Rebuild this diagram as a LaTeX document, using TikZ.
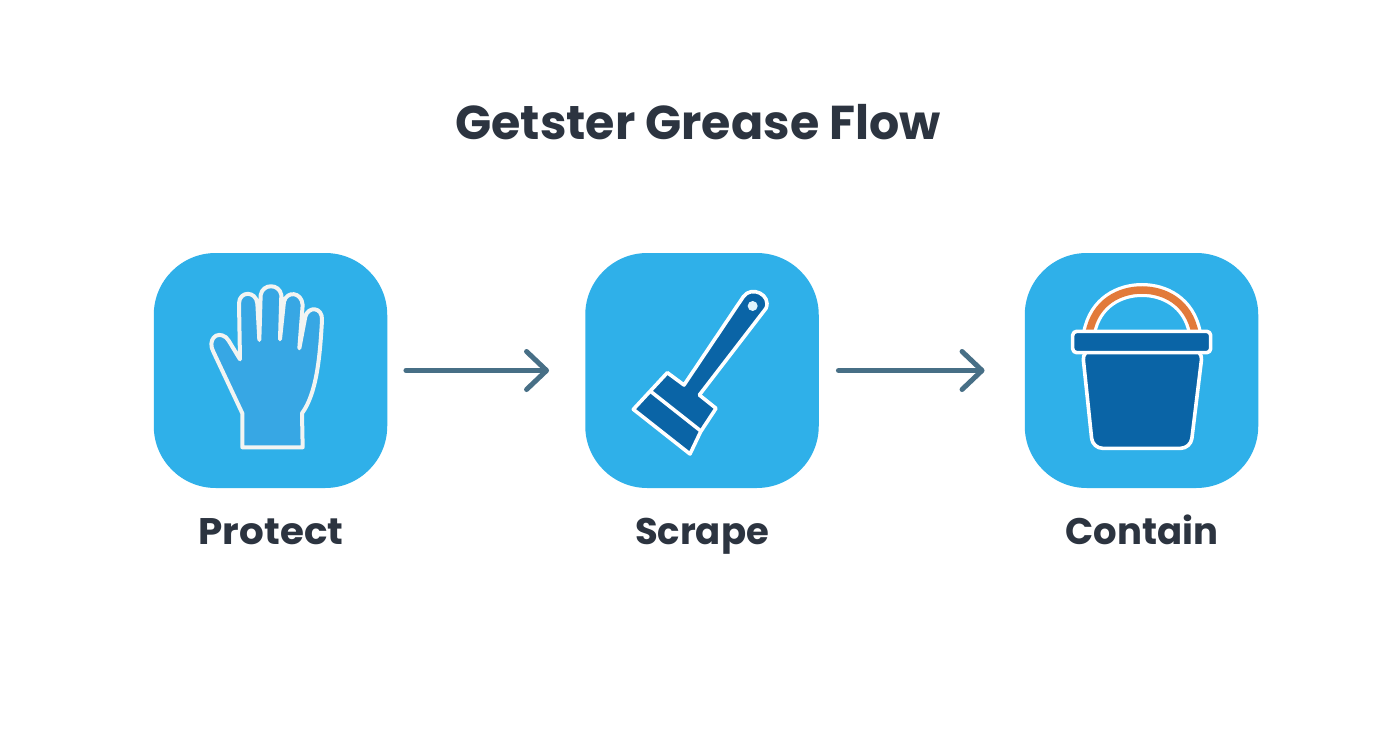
\documentclass[tikz,border=0pt]{standalone}
\usepackage{fontspec}
\setmainfont{Poppins}
\usetikzlibrary{arrows.meta}
\definecolor{cardblue}{HTML}{2FB0E9}
\definecolor{handblue}{HTML}{37A7E4}
\definecolor{deepblue}{HTML}{0A64A6}
\definecolor{arrowslate}{HTML}{476F86}
\definecolor{inkdark}{HTML}{2C3440}
\definecolor{handleorange}{HTML}{E27A3A}
\definecolor{glovewhite}{HTML}{F2F4F2}
\tikzset{
  card/.style={rectangle,rounded corners=62pt,fill=cardblue,minimum width=233.5pt,minimum height=235pt,inner sep=0pt},
  caption/.style={font=\bfseries\fontsize{37}{42}\selectfont,text=inkdark,inner sep=0pt,anchor=base},
  flow/.style={draw=arrowslate,line width=5pt,line cap=round,-{Straight Barb[length=20pt,width=38pt,line width=5pt,round]}},
  iconline/.style={draw=white,line width=3.6pt,line join=round,fill=deepblue},
  icon/.style={shift={#1},x=0.33333pt,y=-0.33333pt}
}
\begin{document}
\begin{tikzpicture}[x=1pt,y=-1pt]
\useasboundingbox (0,0) rectangle (1392,752);
\fill[white] (0,0) rectangle (1392,752);
\node[font=\bfseries\fontsize{47.5}{54}\selectfont,text=inkdark,inner sep=0pt,anchor=base] (title) at (698,139) {Getster Grease Flow};
\node[card] (c1) at (270.5,370.5) {};
\node[card] (c2) at (702,370.5) {};
\node[card] (c3) at (1141.5,370.5) {};
\node[caption,xscale=1.05] (l1) at (271,544) {Protect};
\node[caption] (l2) at (702,544) {Scrape};
\node[caption] (l3) at (1142,544) {Contain};
\draw[flow,shorten <=18.5pt,shorten >=36pt] (c1.east) -- (c2.west);
\draw[flow,shorten <=19.5pt,shorten >=40pt] (c2.east) -- (c3.west);
% glove
\begin{scope}[icon={(150,250)}]
\draw[draw=glovewhite,line width=4pt,line join=round,line cap=round,fill=handblue]
 (277,592) -- (277,490) -- (190,305)
 .. controls (172,272) and (198,240) .. (228,262) -- (236,272) -- (270,328)
 -- (267,160) .. controls (268,122) and (318,122) .. (322,160) -- (328,270)
 -- (332,135) .. controls (338,100) and (388,100) .. (394,135) -- (390,268)
 -- (402,155) .. controls (410,122) and (455,125) .. (458,165) -- (448,295)
 -- (466,200) .. controls (474,168) and (518,170) .. (516,210)
 .. controls (510,320) and (500,430) .. (456,490) -- (458,592) -- cycle;
\end{scope}
% scraper
\begin{scope}[icon={(580,250)}]
\draw[iconline]
 (262,368) -- (312,405) -- (490,140)
 .. controls (515,105) and (575,135) .. (558,175)
 -- (358,435) -- (408,475) -- (362,545) -- (330,612) -- (160,478) -- cycle;
\draw[draw=white,line width=3.6pt] (213,425) -- (365,545);
\fill[white!85!cardblue] (518,168) circle[radius=15];
\end{scope}
% bucket
\begin{scope}[icon={(1020,250)}]
\draw[draw=white,line width=14pt] (207,250) .. controls (225,155) and (300,120) .. (366,120) .. controls (432,120) and (507,155) .. (525,250);
\draw[draw=handleorange,line width=7.5pt] (207,250) .. controls (225,155) and (300,120) .. (366,120) .. controls (432,120) and (507,155) .. (525,250);
\draw[iconline,rounded corners=10pt] (187,300) -- (218,595) -- (512,595) -- (548,300) -- cycle;
\draw[iconline,rounded corners=4pt] (158,244) rectangle (572,308);
\end{scope}
\end{tikzpicture}
\end{document}
